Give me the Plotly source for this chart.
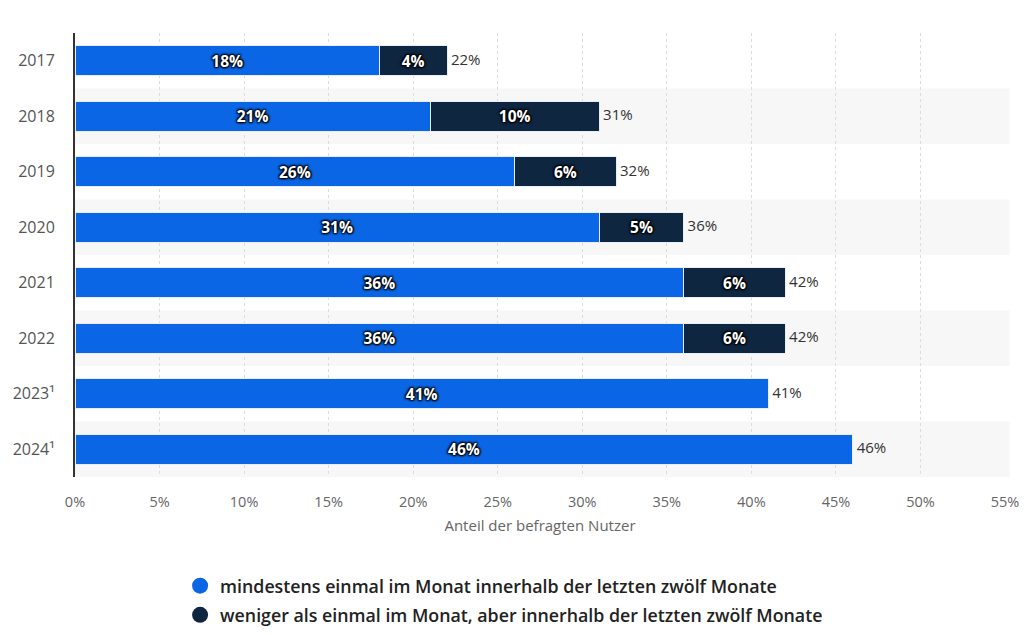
import plotly.graph_objects as go

years = ["2017", "2018", "2019", "2020", "2021", "2022", "2023¹", "2024¹"]
monthly = [18, 21, 26, 31, 36, 36, 41, 46]
less_often = [4, 10, 6, 5, 6, 6, None, None]
tick_vals = [0, 5, 10, 15, 20, 25, 30, 35, 40, 45, 50, 55]
tick_text = [f"{v}%" for v in tick_vals]

name_a = "mindestens einmal im Monat innerhalb der letzten zwölf Monate"
name_b = "weniger als einmal im Monat, aber innerhalb der letzten zwölf Monate"
col_a = "#0a66e4"
col_b = "#0f2641"

totals = [m + (l or 0) for m, l in zip(monthly, less_often)]

label_font = dict(family="Open Sans", size=15.5, color="white", weight="bold",
                  shadow="1px 1px 2px #000, -1px -1px 2px #000, 1px -1px 2px #000, -1px 1px 2px #000")

fig = go.Figure()
fig.add_trace(go.Bar(
    y=years, x=monthly, orientation="h", name=name_a,
    marker=dict(color=col_a, line=dict(color="#e8eef8", width=1)),
    text=[f"{v}%" for v in monthly], textposition="inside", insidetextanchor="middle",
    textfont=label_font, showlegend=False, width=0.54,
))
fig.add_trace(go.Bar(
    y=years, x=less_often, orientation="h", name=name_b,
    marker=dict(color=col_b, line=dict(color="#e8eef8", width=1)),
    text=[f"{v}%" if v else "" for v in less_often], textposition="inside", insidetextanchor="middle",
    textfont=label_font, showlegend=False, width=0.54,
))
fig.add_trace(go.Scatter(
    y=years, x=totals, mode="text", text=[f" {t}%" for t in totals],
    textposition="middle right", textfont=dict(family="Open Sans", size=15, color="#333"),
    showlegend=False, hoverinfo="skip", cliponaxis=False,
))
# legend entries with circle markers
fig.add_trace(go.Scatter(x=[None], y=[None], mode="markers", name=name_a, legendgroup="a",
                         marker=dict(symbol="circle", size=17, color=col_a)))
fig.add_trace(go.Scatter(x=[None], y=[None], mode="markers", name=name_b, legendgroup="b",
                         marker=dict(symbol="circle", size=17, color=col_b)))

shapes = []
for i, _ in enumerate(years):
    if i % 2 == 1:
        shapes.append(dict(type="rect", xref="paper", yref="y", x0=0, x1=1.005,
                           y0=i - 0.5, y1=i + 0.5, fillcolor="#f7f7f7",
                           line=dict(width=0), layer="between"))

fig.update_layout(
    width=1016, height=619,
    margin=dict(l=67, r=19, t=25, b=150),
    paper_bgcolor="white", plot_bgcolor="white",
    barmode="stack", bargap=0.46,
    shapes=shapes,
    font=dict(family="Open Sans", color="#555"),
    xaxis=dict(range=[0, 55], tickvals=tick_vals, ticktext=tick_text, automargin=False,
               showgrid=True, gridcolor="#dcdcdc", griddash="dot", gridwidth=1,
               zeroline=False, tickfont=dict(size=14.5, color="#666"),
               title=dict(text="Anteil der befragten Nutzer", font=dict(size=15, color="#666"), standoff=10),
               ticks="", ticklabelstandoff=14, fixedrange=True),
    yaxis=dict(autorange="reversed", showline=True, linecolor="#333", linewidth=2, automargin=False,
               tickfont=dict(size=16, color="#555"), ticks="", ticklabelstandoff=15,
               showgrid=False, range=[7.5, -0.5]),
    legend=dict(orientation="v", xref="paper", x=0.113, xanchor="left",
                yref="container", y=0.096, yanchor="top",
                traceorder="grouped", tracegroupgap=3,
                font=dict(size=17.8, color="#222", weight=600), itemsizing="trace",
                bgcolor="rgba(0,0,0,0)"),
)
fig.write_html("out.html")
